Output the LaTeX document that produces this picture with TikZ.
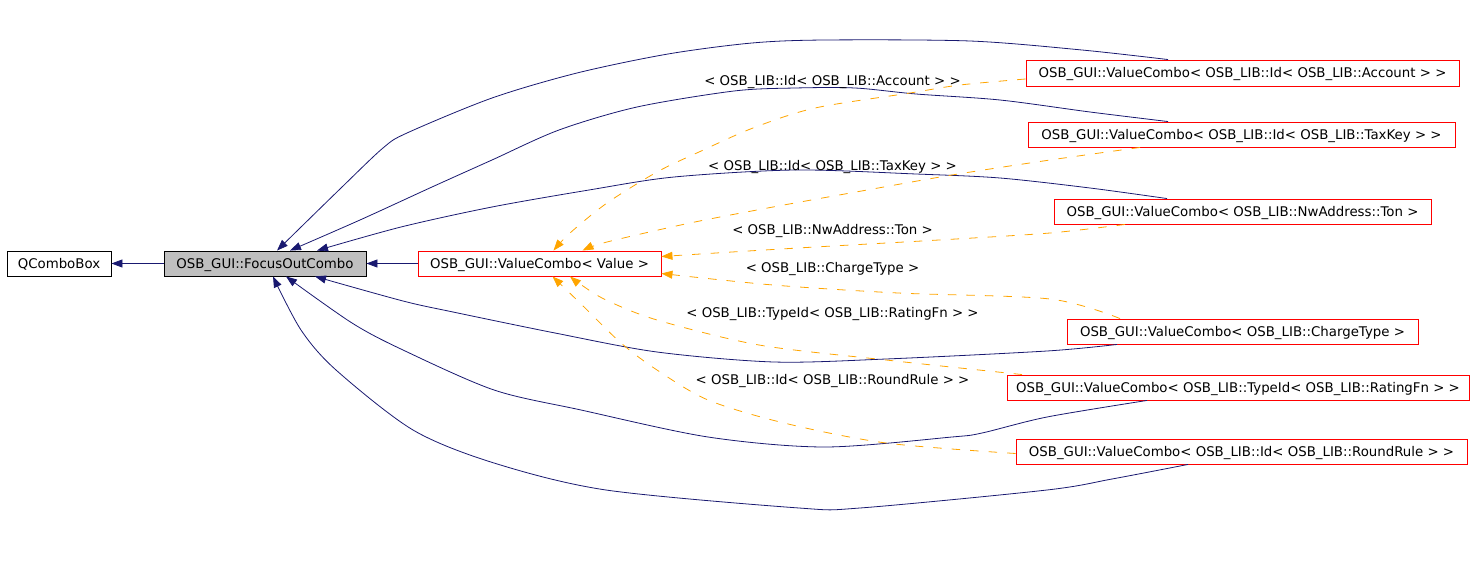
\documentclass[tikz,border=0pt]{standalone}
\usepackage{fontspec}
\setmainfont{DejaVu Sans}
\usetikzlibrary{arrows.meta}
\definecolor{dxblue}{HTML}{191970}
\definecolor{dxorange}{HTML}{FFA500}
\definecolor{dxred}{HTML}{FF0000}
\definecolor{dxgray}{HTML}{BFBFBF}
\begin{document}
\begin{tikzpicture}[x=1pt,y=-1pt,
  every node/.style={font=\fontsize{13.33}{16}\selectfont, inner sep=0pt, text height=9.7pt, text depth=0.5pt},
  cbox/.style={draw=black, line width=0.9pt, minimum height=25pt},
  tbox/.style={draw=dxred, line width=0.9pt, minimum height=25pt},
  gbox/.style={draw=black, fill=dxgray, line width=0.9pt, minimum height=25pt},
  inh/.style={draw=dxblue, line width=0.8pt, -{Triangle[length=11pt,width=8pt]}},
  tmpl/.style={draw=dxorange, line width=0.8pt, dash pattern=on 8.5pt off 10pt, -{Triangle[length=11pt,width=8pt]}},
  elabel/.style={text=black}
]
\useasboundingbox (0,0) rectangle (1483,567);

% nodes
\node[cbox, minimum width=104pt] (qcb) at (59,263.5) {QComboBox};
\node[gbox, minimum width=202pt] (focus) at (265,263.5) {OSB\_GUI::FocusOutCombo};
\node[tbox, minimum width=243pt] (vcv) at (539.5,263.5) {OSB\_GUI::ValueCombo< Value >};
\node[tbox, minimum width=433pt, minimum height=26pt] (acc) at (1242.5,73) {OSB\_GUI::ValueCombo< OSB\_LIB::Id< OSB\_LIB::Account > >};
\node[tbox, minimum width=427pt] (tax) at (1241.5,134.5) {OSB\_GUI::ValueCombo< OSB\_LIB::Id< OSB\_LIB::TaxKey > >};
\node[tbox, minimum width=377pt] (nw) at (1242.5,211.5) {OSB\_GUI::ValueCombo< OSB\_LIB::NwAddress::Ton >};
\node[tbox, minimum width=351pt] (ct) at (1242.5,331.5) {OSB\_GUI::ValueCombo< OSB\_LIB::ChargeType >};
\node[tbox, minimum width=462pt] (tid) at (1238,387.5) {OSB\_GUI::ValueCombo< OSB\_LIB::TypeId< OSB\_LIB::RatingFn > >};
\node[tbox, minimum width=451pt] (rr) at (1241.5,451.5) {OSB\_GUI::ValueCombo< OSB\_LIB::Id< OSB\_LIB::RoundRule > >};

% straight inheritance edges
\draw[inh] (focus.west) -- (qcb.east);
\draw[inh] (vcv.west) -- (focus.east);

% curved inheritance edges (blue)
\draw[inh] plot[smooth, tension=0.5] coordinates {([xshift=-74.5pt]acc.north) (1082,50) (970,41) (825,40) (752,43) (668,54) (577,73) (492,98) (407,133) (383,148) (341,188) ([xshift=12pt]focus.north)};
\draw[inh] plot[smooth, tension=0.5] coordinates {([xshift=-73.5pt]tax.north) (1090,112) (1000,100) (916,94) (855,88) (795,88) (734,91) (637,107) (559,130) (492,160) (432,187) (360,220) ([xshift=25pt]focus.north)};
\draw[inh] plot[smooth, tension=0.5] coordinates {([xshift=-75.5pt]nw.north) (1090,188) (1000,178) (916,174) (795,170) (674,177) (589,190) (492,207) (401,227) ([xshift=52pt]focus.north)};
\draw[inh] plot[smooth, tension=0.5] coordinates {([xshift=-125.5pt]ct.south) (1047,351) (886,359) (774,362) (657,352) (555,333) (453,312) (403,301) ([xshift=50pt]focus.south)};
\draw[inh] plot[smooth, tension=0.5] coordinates {([xshift=-91pt]tid.south) (1047,417) (982,433) (952,437) (825,447) (708,437) (581,410) (494,390) (403,350) (352,323) ([xshift=21pt]focus.south)};
\draw[inh] plot[smooth, tension=0.5] coordinates {([xshift=-53.5pt]rr.south) (1112,479) (1047,490) (860,508) (799,508) (606,490) (494,463) (413,430) (336,370) (301,330) ([xshift=8pt]focus.south)};

% template instantiation edges (orange dashed)
\draw[tmpl] plot[smooth, tension=0.5] coordinates {([yshift=-6pt]acc.west) (960,85) (910,93) (815,108) (753,128) (699,152) (657,172) (607,203) (570,233) ([xshift=14pt]vcv.north)};
\draw[tmpl] plot[smooth, tension=0.5] coordinates {([xshift=-101.5pt]tax.south) (1050,160) (952,175) (856,192) (773,207) (690,223) (607,242) ([xshift=43pt]vcv.north)};
\draw[tmpl] plot[smooth, tension=0.5] coordinates {([xshift=-117.5pt]nw.south) (1050,233) (939,240) (815,247) (732,252) ([yshift=7pt]vcv.east)};
\draw[tmpl] plot[smooth, tension=0.5] coordinates {([xshift=-122.5pt]ct.north) (1050,299) (898,293) (773,285) ([yshift=-10pt]vcv.east)};
\draw[tmpl] plot[smooth, tension=0.5] coordinates {([xshift=-216pt]tid.north) (886,360) (759,345) (657,320) (606,300) (580,284) ([xshift=30.5pt]vcv.south)};
\draw[tmpl] plot[smooth, tension=0.5] coordinates {([yshift=-2pt]rr.west) (886,443) (784,423) (708,400) (657,370) (621,343) (580,303) ([xshift=13pt]vcv.south)};

% edge labels
\node[elabel] (l1) at (832.5,81) {< OSB\_LIB::Id< OSB\_LIB::Account > >};
\node[elabel] (l2) at (832.5,166) {< OSB\_LIB::Id< OSB\_LIB::TaxKey > >};
\node[elabel] (l3) at (832.5,230) {< OSB\_LIB::NwAddress::Ton >};
\node[elabel] (l4) at (832.5,267.5) {< OSB\_LIB::ChargeType >};
\node[elabel] (l5) at (832.5,313) {< OSB\_LIB::TypeId< OSB\_LIB::RatingFn > >};
\node[elabel] (l6) at (832.5,379.5) {< OSB\_LIB::Id< OSB\_LIB::RoundRule > >};
\end{tikzpicture}
\end{document}
